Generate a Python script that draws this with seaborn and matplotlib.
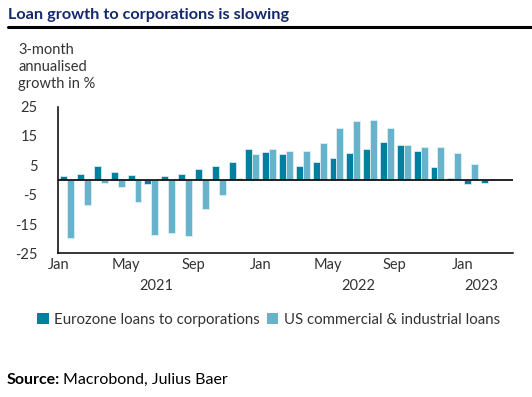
import pandas as pd
import seaborn as sns
import matplotlib.pyplot as plt
from matplotlib.lines import Line2D
from matplotlib.patches import Patch


months = ["2021-01", "2021-02", "2021-03", "2021-04", "2021-05", "2021-06",
          "2021-07", "2021-08", "2021-09", "2021-10", "2021-11", "2021-12",
          "2022-01", "2022-02", "2022-03", "2022-04", "2022-05", "2022-06",
          "2022-07", "2022-08", "2022-09", "2022-10", "2022-11", "2022-12",
          "2023-01", "2023-02", "2023-03"]

eurozone = [1.5, 1.9, 4.9, 2.8, 1.7, -1.5, 1.4, 2.0, 3.7, 4.9, 6.2, 10.6,
            9.4, 8.8, 4.6, 6.2, 7.5, 9.2, 10.4, 12.9, 11.8, 10.0, 4.5, 0.6,
            -1.3, -1.0, None]

us = [-19.9, -8.5, -1.1, -2.4, -7.6, -18.7, -17.9, -19.1, -9.8, -5.0, 0.7, 8.8,
      10.5, 9.8, 10.0, 12.6, 17.6, 20.2, 20.5, 17.6, 11.9, 11.2, 11.2, 9.2,
      5.5, 0.2, None]

series = ["Eurozone loans to corporations", "US commercial & industrial loans"]
colors = ["#00809f", "#67b3cb"]

tick_months = ["Jan", "May", "Sep", "Jan", "May", "Sep", "Jan"]
years = ["2021", "2022", "2023"]

df = pd.DataFrame({
    "month": months * 2,
    "value": eurozone + us,
    "series": [series[0]] * len(months) + [series[1]] * len(months),
})

sns.set_style("white")
plt.rcParams["font.family"] = ["Lato", "DejaVu Sans"]
txt = "#333333"
fs = 10.5

fig = plt.figure(figsize=(5.32, 3.97), dpi=100)
ax = fig.add_axes([0.1096, 0.3615, 0.8541, 0.3702])

sns.barplot(data=df, x="month", y="value", hue="series", order=months,
            hue_order=series, palette=colors, saturation=1, width=0.82,
            edgecolor="#e6f2f6", linewidth=0.5, ax=ax, legend=False)

off = 0.53
ax.set_xlim(-off, len(months) - off)
ax.set_ylim(-25, 25)
ax.axhline(0, color="black", lw=1.2, zorder=5)

# month ticks: Jan as major, May/Sep as minor
jan_pos = [i - off for i, m in enumerate(months) if m.endswith("-01")]
minor_pos = [i - off for i, m in enumerate(months) if m[5:] in ("05", "09")]
ax.set_xticks(jan_pos, [tick_months[0], tick_months[3], tick_months[6]])
ax.set_xticks(minor_pos, [tick_months[1], tick_months[2], tick_months[4], tick_months[5]],
              minor=True)
ax.tick_params(axis="x", which="major", direction="inout", length=7, width=1.3,
               color="#333333", labelsize=fs, labelcolor=txt, pad=0)
ax.tick_params(axis="x", which="minor", direction="inout", length=4, width=1,
               color="#333333", labelsize=fs, labelcolor=txt, pad=1.5)

ax.set_yticks(range(-25, 26, 5))
ax.set_yticklabels([str(v) if v % 10 != 0 else "" for v in range(-25, 26, 5)])
ax.tick_params(axis="y", direction="out", length=8, width=1, color="#333333",
               labelsize=fs, labelcolor=txt, pad=7)

for side in ["top", "right"]:
    ax.spines[side].set_visible(False)
for side in ["left", "bottom"]:
    ax.spines[side].set_color("black")
    ax.spines[side].set_linewidth(1.1)
ax.set_xlabel("")
ax.set_ylabel("")

# year labels
year_x = [5.3, 17.3, 24.6]
for x, y in zip(year_x, years):
    ax.text(x, -0.22, y, transform=ax.get_xaxis_transform(), ha="center",
            va="center", fontsize=fs, color=txt)

fig.text(0.015, 0.963, "Loan growth to corporations is slowing", fontsize=11.7,
         fontweight="bold", color="#14286e", va="center")
fig.add_artist(Line2D([0.015, 1.0], [0.932, 0.932], color="black", lw=2.2))
fig.text(0.034, 0.892, "3-month\nannualised\ngrowth in %", fontsize=fs,
         color=txt, va="top", linespacing=1.3)

handles = [Patch(facecolor=c, edgecolor="none") for c in colors]
fig.legend(handles, series, loc="center", bbox_to_anchor=(0.505, 0.194), ncol=2,
           frameon=False, fontsize=10.8, handlelength=0.75, handleheight=0.75,
           handletextpad=0.35, columnspacing=0.5, labelcolor=txt)

src = fig.text(0.013, 0.043, "Source:", fontsize=11.5, fontweight="bold",
               color="black", va="center")
fig.canvas.draw()
bb = src.get_window_extent().transformed(fig.transFigure.inverted())
fig.text(bb.x1 + 0.006, 0.043, "Macrobond, Julius Baer", fontsize=11.5,
         color="black", va="center")

fig.savefig("out.png", dpi=100)
